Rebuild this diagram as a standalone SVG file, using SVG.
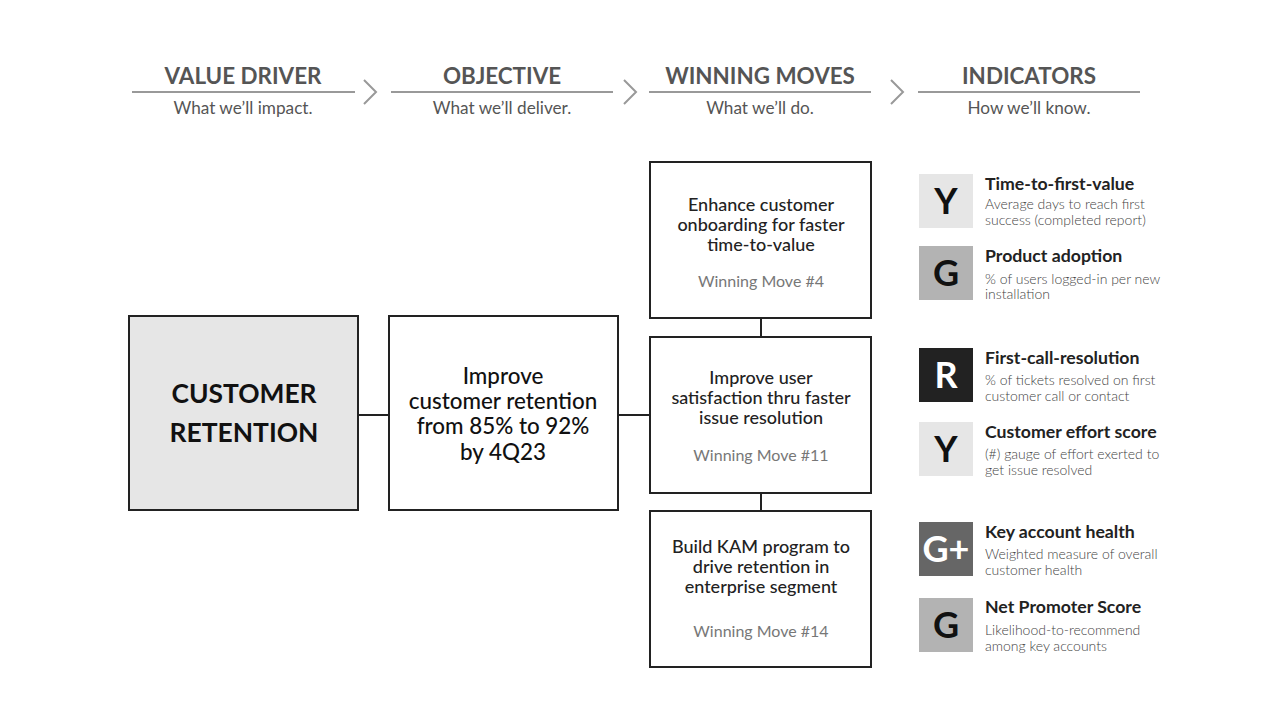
<svg xmlns="http://www.w3.org/2000/svg" width="1280" height="720" viewBox="0 0 1280 720">
<style>
text{font-family:Lato,"Open Sans","Liberation Sans",sans-serif}
.h{font-size:22.4px;font-weight:700;fill:#555;text-anchor:middle}
.s{font-size:17.2px;fill:#555;text-anchor:middle}
.hl{stroke:#999;stroke-width:2}
.chev{fill:none;stroke:#999;stroke-width:2}
.box{fill:#fff;stroke:#222;stroke-width:2}
.conn{stroke:#222;stroke-width:2;fill:none}
.wm{font-size:18px;font-weight:500;fill:#222;text-anchor:middle}
.wmn{font-size:16px;fill:#777;text-anchor:middle}
.ilet{font-size:36px;font-weight:700;text-anchor:middle}
.it{font-size:17.7px;font-weight:700;fill:#222}
.id{font-size:14px;font-weight:300;fill:#444}
.ob{font-size:22.4px;font-weight:500;fill:#111;text-anchor:middle}
</style>
<rect width="1280" height="720" fill="#fff"/>
<g id="headers">
<text class="h" x="243" y="84">VALUE DRIVER</text>
<line class="hl" x1="132" y1="92" x2="355" y2="92"/>
<text class="s" x="243" y="114">What we’ll impact.</text>
<polyline class="chev" points="364,80 376,92 364,104"/>
<text class="h" x="502" y="84">OBJECTIVE</text>
<line class="hl" x1="391" y1="92" x2="613" y2="92"/>
<text class="s" x="502" y="114">What we’ll deliver.</text>
<polyline class="chev" points="624,80 636,92 624,104"/>
<text class="h" x="760" y="84">WINNING MOVES</text>
<line class="hl" x1="649" y1="92" x2="871" y2="92"/>
<text class="s" x="760" y="114">What we’ll do.</text>
<polyline class="chev" points="891,80 903,92 891,104"/>
<text class="h" x="1029" y="84">INDICATORS</text>
<line class="hl" x1="918" y1="92" x2="1140" y2="92"/>
<text class="s" x="1029" y="114">How we’ll know.</text>
</g>
<g id="connectors">
<line class="conn" x1="358" y1="415" x2="389" y2="415"/>
<line class="conn" x1="618" y1="415" x2="650" y2="415"/>
<line class="conn" x1="761" y1="318" x2="761" y2="337"/>
<line class="conn" x1="761" y1="493" x2="761" y2="511"/>
</g>
<g id="value-driver">
<rect x="129" y="316" width="229" height="194" fill="#e6e6e6" stroke="#222" stroke-width="2"/>
<text x="244" y="403" text-anchor="middle" font-size="26.4" font-weight="700" fill="#111">CUSTOMER</text>
<text x="244" y="442" text-anchor="middle" font-size="26.4" font-weight="700" fill="#111">RETENTION</text>
</g>
<g id="objective">
<rect class="box" x="389" y="316" width="229" height="194"/>
<text class="ob" x="503" y="384">Improve</text>
<text class="ob" x="503" y="409">customer retention</text>
<text class="ob" x="503" y="434">from 85% to 92%</text>
<text class="ob" x="503" y="460">by 4Q23</text>
</g>
<g id="wm4">
<rect class="box" x="650" y="162" width="221" height="156"/>
<text class="wm" x="761" y="211">Enhance customer</text>
<text class="wm" x="761" y="231">onboarding for faster</text>
<text class="wm" x="761" y="251">time-to-value</text>
<text class="wmn" x="761" y="287">Winning Move #4</text>
</g>
<g id="wm11">
<rect class="box" x="650" y="337" width="221" height="156"/>
<text class="wm" x="761" y="384">Improve user</text>
<text class="wm" x="761" y="404">satisfaction thru faster</text>
<text class="wm" x="761" y="424">issue resolution</text>
<text class="wmn" x="761" y="461">Winning Move #11</text>
</g>
<g id="wm14">
<rect class="box" x="650" y="511" width="221" height="156"/>
<text class="wm" x="761" y="553">Build KAM program to</text>
<text class="wm" x="761" y="573">drive retention in</text>
<text class="wm" x="761" y="593">enterprise segment</text>
<text class="wmn" x="761" y="637">Winning Move #14</text>
</g>
<g id="ind1">
<rect x="919" y="174" width="54" height="54" fill="#e6e6e6"/>
<text class="ilet" x="946" y="214" fill="#111">Y</text>
<text class="it" x="985" y="190">Time-to-first-value</text>
<text class="id" x="985" y="209">Average days to reach first</text>
<text class="id" x="985" y="225">success (completed report)</text>
</g>
<g id="ind2">
<rect x="919" y="246" width="54" height="54" fill="#b3b3b3"/>
<text class="ilet" x="946" y="286" fill="#111">G</text>
<text class="it" x="985" y="262">Product adoption</text>
<text class="id" x="985" y="284">% of users logged-in per new</text>
<text class="id" x="985" y="299">installation</text>
</g>
<g id="ind3">
<rect x="919" y="348" width="54" height="54" fill="#222"/>
<text class="ilet" x="946" y="388" fill="#fff">R</text>
<text class="it" x="985" y="364">First-call-resolution</text>
<text class="id" x="985" y="385">% of tickets resolved on first</text>
<text class="id" x="985" y="401">customer call or contact</text>
</g>
<g id="ind4">
<rect x="919" y="422" width="54" height="54" fill="#e6e6e6"/>
<text class="ilet" x="946" y="462" fill="#111">Y</text>
<text class="it" x="985" y="438">Customer effort score</text>
<text class="id" x="985" y="459">(#) gauge of effort exerted to</text>
<text class="id" x="985" y="475">get issue resolved</text>
</g>
<g id="ind5">
<rect x="919" y="522" width="54" height="54" fill="#666"/>
<text class="ilet" x="946" y="562" fill="#fff">G+</text>
<text class="it" x="985" y="538">Key account health</text>
<text class="id" x="985" y="559">Weighted measure of overall</text>
<text class="id" x="985" y="575">customer health</text>
</g>
<g id="ind6">
<rect x="919" y="598" width="54" height="54" fill="#b3b3b3"/>
<text class="ilet" x="946" y="638" fill="#111">G</text>
<text class="it" x="985" y="613">Net Promoter Score</text>
<text class="id" x="985" y="635">Likelihood-to-recommend</text>
<text class="id" x="985" y="651">among key accounts</text>
</g>
</svg>
